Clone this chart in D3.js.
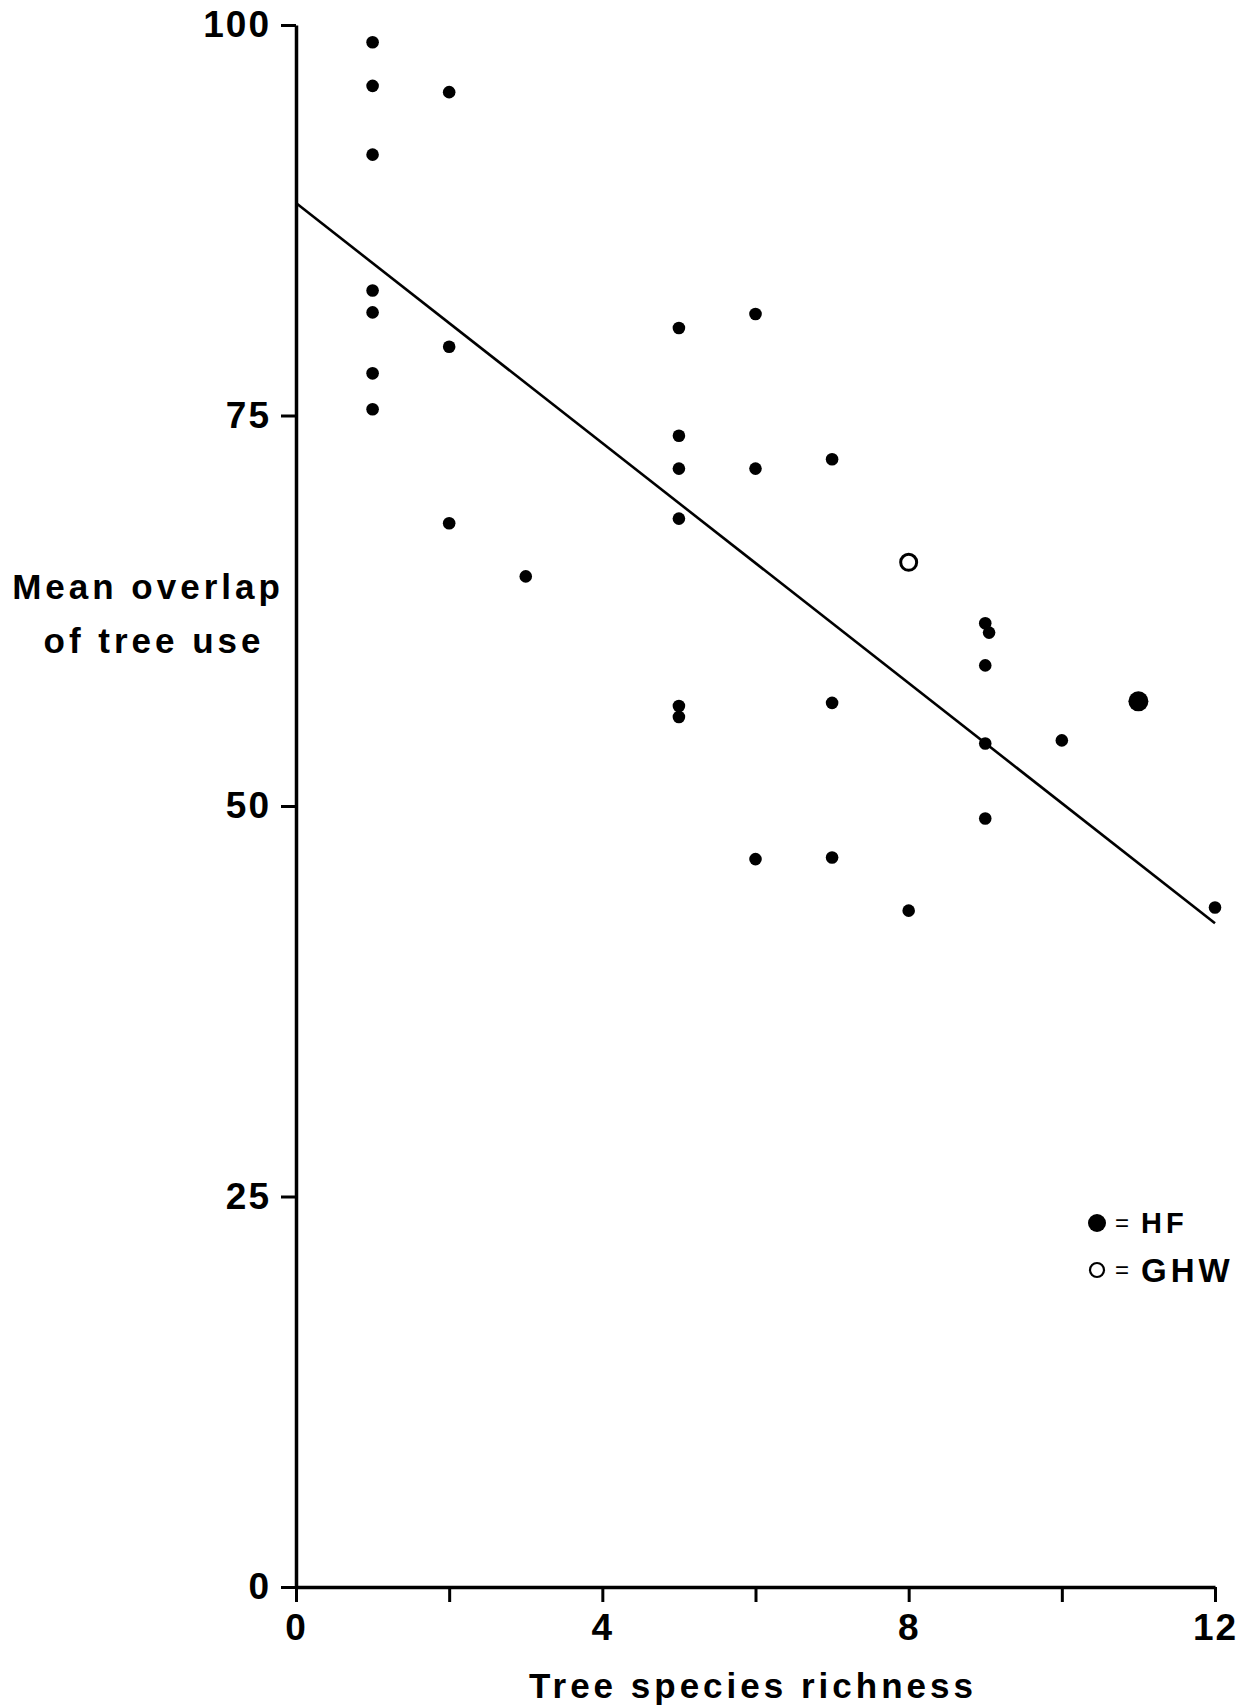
<!DOCTYPE html>
<html>
<head>
<meta charset="utf-8">
<script src="https://cdn.jsdelivr.net/npm/d3@7"></script>
<style>
  body { margin: 0; background: #fff; }
  text { font-family: "Liberation Sans", Arial, sans-serif; fill: #000; }
</style>
</head>
<body>
<svg id="chart" width="1255" height="1707"></svg>
<script>
// values
let richness = [1, 1, 1, 1, 1, 1, 1,
                2, 2, 2,
                3,
                5, 5, 5, 5, 5, 5,
                6, 6, 6,
                7, 7, 7,
                8, 8,
                9, 9.05, 9, 9, 9,
                10, 11, 12];
let overlap = [98.9, 96.1, 91.7, 83.0, 81.6, 77.7, 75.4,
               95.7, 79.4, 68.1,
               64.7,
               80.6, 73.7, 71.6, 68.4, 56.4, 55.7,
               81.5, 71.6, 46.6,
               72.2, 56.6, 46.7,
               43.3, 65.6,
               61.7, 61.1, 59.0, 54.0, 49.2,
               54.2, 56.7, 43.5];
let site = ["", "", "", "", "", "", "",
            "", "", "",
            "",
            "", "", "", "", "", "",
            "", "", "",
            "", "", "",
            "", "GHW",
            "", "", "", "", "",
            "", "HF", ""];

let fitX = [0, 12];
let fitY = [88.6, 42.5];

let xTicks = [0, 2, 4, 6, 8, 10, 12];
let xLabels = [0, 4, 8, 12];
let yTicks = [0, 25, 50, 75, 100];
let legendKeys = ["HF", "GHW"];

let svg = d3.select("#chart");
let x = d3.scaleLinear().domain([0, 12]).range([296, 1215]);
let y = d3.scaleLinear().domain([0, 100]).range([1587, 25]);

let xAxis = svg.append("g")
    .attr("transform", "translate(0," + y(0) + ")")
    .call(d3.axisBottom(x)
        .tickValues(xTicks)
        .tickSize(15)
        .tickSizeOuter(0)
        .tickPadding(12)
        .tickFormat(d => xLabels.indexOf(d) >= 0 ? d : ""));

let yAxis = svg.append("g")
    .attr("transform", "translate(" + x(0) + ",0)")
    .call(d3.axisLeft(y)
        .tickValues(yTicks)
        .tickSize(15)
        .tickSizeOuter(0)
        .tickPadding(10));

[xAxis, yAxis].forEach(g => {
    g.selectAll(".domain").style("stroke", "#000").style("stroke-width", 3.5);
    g.selectAll(".tick line").style("stroke", "#000").style("stroke-width", 3);
    g.selectAll(".tick text")
        .style("font-size", "37px")
        .style("font-weight", "bold")
        .style("letter-spacing", "2px")
        .attr("fill", "#000");
});

// regression line
svg.append("line")
    .attr("x1", x(fitX[0]))
    .attr("y1", y(fitY[0]))
    .attr("x2", x(fitX[1]))
    .attr("y2", y(fitY[1]))
    .style("stroke", "#000")
    .style("stroke-width", 2.6);

let pts = richness.map((d, i) => ({x: d, y: overlap[i], s: site[i]}));

svg.selectAll(".pt")
    .data(pts)
    .enter().append("circle")
    .attr("class", "pt")
    .attr("cx", d => x(d.x))
    .attr("cy", d => y(d.y))
    .attr("r", d => d.s == "HF" ? 10 : (d.s == "GHW" ? 8 : 6.3))
    .attr("fill", d => d.s == "GHW" ? "#fff" : "#000")
    .style("stroke", d => d.s == "GHW" ? "#000" : "none")
    .style("stroke-width", 3);

// axis titles
svg.append("text")
    .attr("x", 148)
    .attr("y", 599)
    .attr("text-anchor", "middle")
    .style("font-size", "35px")
    .style("font-weight", "bold")
    .style("letter-spacing", "4px")
    .text("Mean overlap");

svg.append("text")
    .attr("x", 154)
    .attr("y", 653)
    .attr("text-anchor", "middle")
    .style("font-size", "35px")
    .style("font-weight", "bold")
    .style("letter-spacing", "4px")
    .text("of tree use");

svg.append("text")
    .attr("x", 753)
    .attr("y", 1698)
    .attr("text-anchor", "middle")
    .style("font-size", "35px")
    .style("font-weight", "bold")
    .style("letter-spacing", "4px")
    .text("Tree species richness");

// legend
let legend = svg.append("g");
legendKeys.forEach((k, i) => {
    let ly = 1223 + i * 47;
    legend.append("circle")
        .attr("cx", 1097)
        .attr("cy", ly)
        .attr("r", k == "HF" ? 9 : 7)
        .attr("fill", k == "HF" ? "#000" : "#fff")
        .style("stroke", "#000")
        .style("stroke-width", k == "HF" ? 0 : 2.2);
    legend.append("text")
        .attr("x", 1122)
        .attr("y", ly + 8)
        .attr("text-anchor", "middle")
        .style("font-size", "24px")
        .text("=");
    legend.append("text")
        .attr("x", 1141)
        .attr("y", ly + (k == "HF" ? 10 : 12))
        .style("font-size", k == "HF" ? "29px" : "33px")
        .style("font-weight", "bold")
        .style("letter-spacing", "4px")
        .text(k);
});
</script>
</body>
</html>
